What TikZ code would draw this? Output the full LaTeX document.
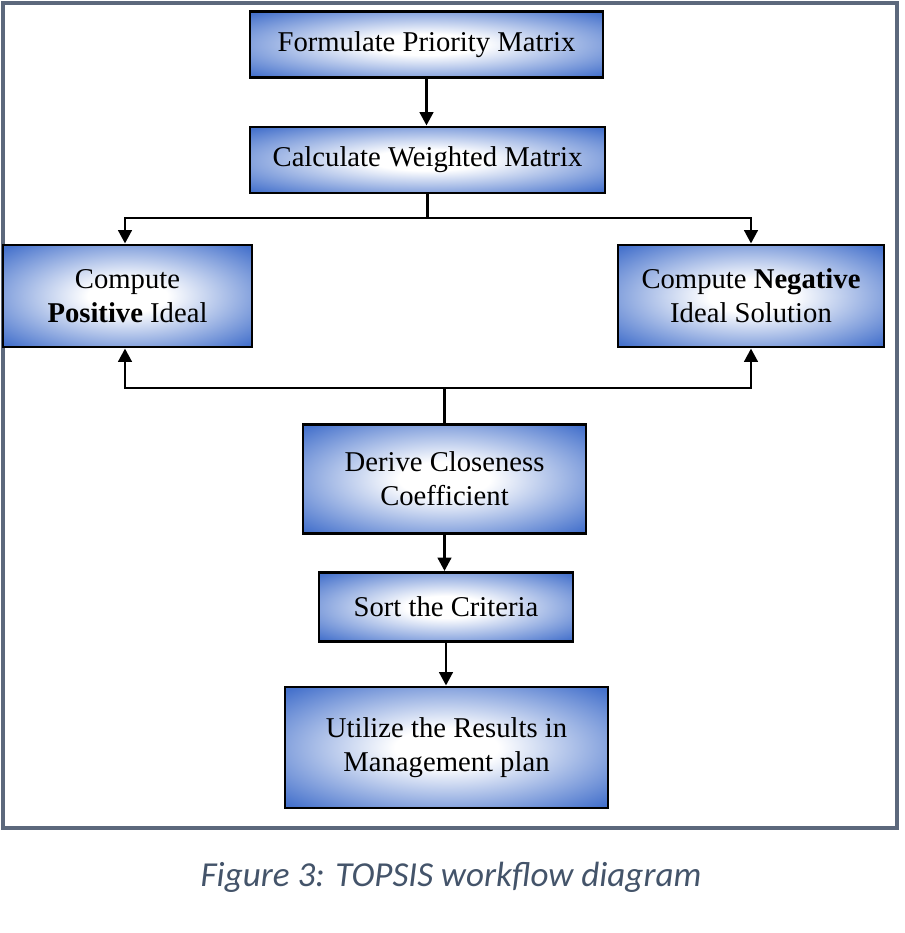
\documentclass[tikz,border=0pt]{standalone}
\usepackage{fontspec}
\setmainfont{Liberation Serif}[Ligatures=NoCommon]
\newfontfamily\capfont{Carlito}
\usetikzlibrary{arrows.meta,shadows}
\definecolor{edgeblue}{RGB}{70,114,204}
\definecolor{framec}{RGB}{92,104,124}
\definecolor{capc}{RGB}{68,84,106}
\pgfdeclareradialshading{boxglow}{\pgfpoint{0bp}{0bp}}{color(0bp)=(white); color(8bp)=(white); color(21bp)=(edgeblue!50!white); color(34bp)=(edgeblue); color(100bp)=(edgeblue)}
\tikzset{
  boxs/.style={draw=black, line width=2.2pt, shading=boxglow, align=center,
    font=\fontsize{21.5}{25.5}\selectfont, inner sep=0pt,
    drop shadow={opacity=0.35, shadow xshift=0.8pt, shadow yshift=-0.8pt, fill=gray}},
  conn/.style={line width=2.2pt, draw=black},
  arr/.style={conn, -{Triangle[length=10pt,width=10pt]}},
}
\begin{document}
\begin{tikzpicture}[x=0.75pt,y=-0.75pt]
\useasboundingbox (0,0) rectangle (905,933);
\draw[framec, line width=3pt] (3,3) rectangle (897,828);
\node[boxs, minimum width=353*0.75pt, minimum height=66*0.75pt] (f1) at (426.5,44.5) {Formulate Priority Matrix};
\node[boxs, minimum width=355*0.75pt, minimum height=66*0.75pt] (f2) at (427.5,160) {Calculate Weighted Matrix};
\node[boxs, minimum width=249*0.75pt, minimum height=102*0.75pt] (pos) at (127.5,296) {Compute\\\textbf{Positive} Ideal};
\node[boxs, minimum width=266*0.75pt, minimum height=102*0.75pt] (neg) at (751,296) {Compute \textbf{Negative}\\Ideal Solution};
\node[boxs, minimum width=283*0.75pt, minimum height=109*0.75pt] (der) at (444.5,479) {Derive Closeness\\Coefficient};
\node[boxs, minimum width=254*0.75pt, minimum height=69*0.75pt] (srt) at (446,607) {Sort the Criteria};
\node[boxs, minimum width=323*0.75pt, minimum height=121*0.75pt] (utl) at (446.5,747.5) {Utilize the Results in\\Management plan};
\coordinate (bt) at (427.5,218);
\coordinate (bb) at (444.5,388);
\draw[arr] (f1.south) -- (f1.south |- f2.north);
\draw[conn] (f2.south) -- (bt);
\draw[arr] (bt) -| ([xshift=-2.5*0.75pt]pos.north);
\draw[arr] (bt) -| (neg.north);
\draw[conn] (der.north) -- (bb);
\draw[arr] (bb) -| ([xshift=-2.5*0.75pt]pos.south);
\draw[arr] (bb) -| (neg.south);
\draw[arr] (der.south) -- (der.south |- srt.north);
\draw[arr] (srt.south) -- (srt.south |- utl.north);
\node[font=\capfont\itshape\fontsize{26.3}{30}\selectfont, text=capc] (cap) at (451,877) {Figure 3: TOPSIS workflow diagram};
\end{tikzpicture}
\end{document}
